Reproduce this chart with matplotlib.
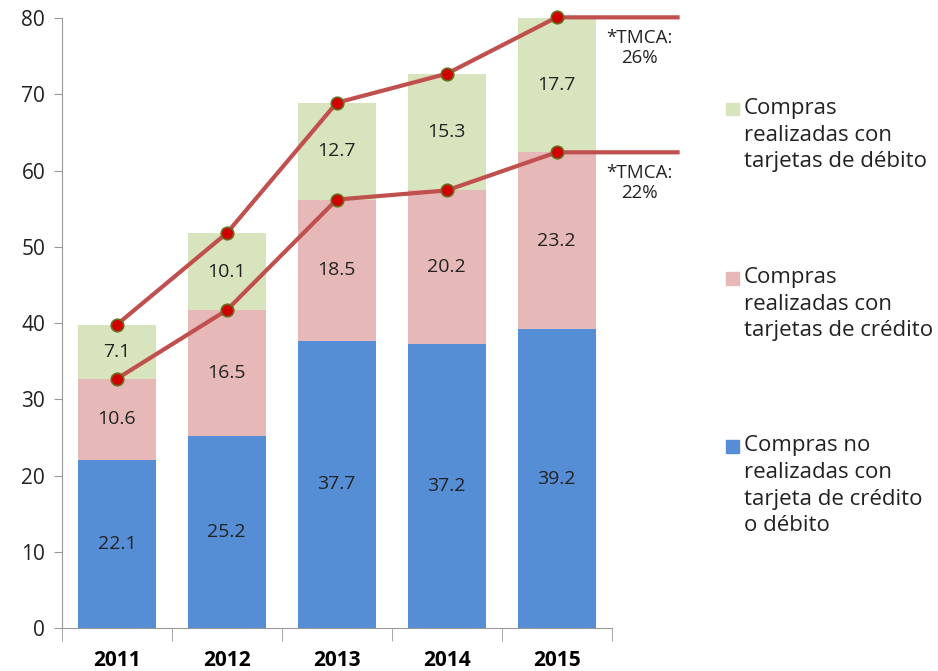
import matplotlib
matplotlib.use('Agg')
import matplotlib.pyplot as plt
from matplotlib.patches import Rectangle

years = ['2011', '2012', '2013', '2014', '2015']
sin_tarjeta = [22.1, 25.2, 37.7, 37.2, 39.2]
credito = [10.6, 16.5, 18.5, 20.2, 23.2]
debito = [7.1, 10.1, 12.7, 15.3, 17.7]
tmca_labels = ['*TMCA:\n26%', '*TMCA:\n22%']
legend_labels = ['Compras\nrealizadas con\ntarjetas de débito',
                 'Compras\nrealizadas con\ntarjetas de crédito',
                 'Compras no\nrealizadas con\ntarjeta de crédito\no débito']

c_azul = '#558ED5'
c_rosa = '#E6B9B8'
c_verde = '#D7E4BD'
c_linea = '#C0504D'

plt.rcParams['font.family'] = ['Open Sans', 'DejaVu Sans']

fig = plt.figure(figsize=(9.38, 6.71), dpi=100)
ax = fig.add_axes([0.066, 0.064, 0.586, 0.909])

x = list(range(len(years)))
base2 = [a + b for a, b in zip(sin_tarjeta, credito)]
total = [a + b for a, b in zip(base2, debito)]

ax.bar(x, sin_tarjeta, width=0.71, color=c_azul)
ax.bar(x, credito, width=0.71, bottom=sin_tarjeta, color=c_rosa)
ax.bar(x, debito, width=0.71, bottom=base2, color=c_verde)

# etiquetas de datos
for i in x:
    ax.text(i, sin_tarjeta[i] / 2, f'{sin_tarjeta[i]:.1f}', ha='center', va='center', fontsize=14, color='#222222')
    ax.text(i, sin_tarjeta[i] + credito[i] / 2, f'{credito[i]:.1f}', ha='center', va='center', fontsize=14, color='#222222')
    ax.text(i, base2[i] + debito[i] / 2, f'{debito[i]:.1f}', ha='center', va='center', fontsize=14, color='#222222')

# líneas de crecimiento con extensión horizontal
for serie in (total, base2):
    ax.plot(x + [x[-1] + 1.1], serie + [serie[-1]], color=c_linea, lw=3, clip_on=False, zorder=3)
    ax.plot(x, serie, linestyle='none', marker='o', ms=9, mfc='#D00000', mec='#6B6B20', mew=1.2,
            clip_on=False, zorder=4)

ax.text(x[-1] + 0.75, total[-1] - 4, tmca_labels[0], ha='center', va='center', fontsize=13.5,
        color='#222222', linespacing=1.1)
ax.text(x[-1] + 0.75, base2[-1] - 4, tmca_labels[1], ha='center', va='center', fontsize=13.5,
        color='#222222', linespacing=1.1)

ax.set_xlim(-0.5, 4.5)
ax.set_ylim(0, 80)
ax.set_yticks(range(0, 81, 10))
ax.set_xticks(x)
ax.set_xticklabels(years, fontsize=15, fontweight='bold')
ax.set_xticks([i - 0.5 for i in range(6)], minor=True)
ax.tick_params(axis='x', which='major', length=0, pad=16)
ax.tick_params(axis='x', which='minor', length=9, color='#999999', direction='out')
ax.tick_params(axis='y', labelsize=15, length=6, color='#999999', pad=6, labelcolor='#222222')
for side in ('top', 'right'):
    ax.spines[side].set_visible(False)
for side in ('left', 'bottom'):
    ax.spines[side].set_color('#999999')

# leyenda manual
colores = [c_verde, c_rosa, c_azul]
tops = [0.849, 0.597, 0.346]
for col, lab, yt in zip(colores, legend_labels, tops):
    fig.add_artist(Rectangle((0.7745, yt - 0.021), 0.0135, 0.019, transform=fig.transFigure, color=col))
    fig.text(0.793, yt + 0.005, lab, ha='left', va='top', fontsize=16, color='#222222', linespacing=1.35)

fig.savefig('out.png', dpi=100)
